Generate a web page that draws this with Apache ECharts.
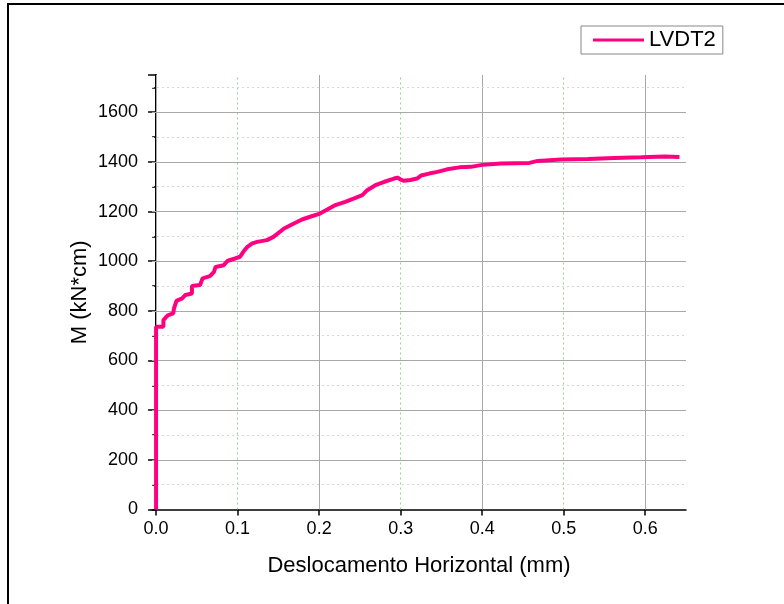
<!DOCTYPE html>
<html>
<head>
<meta charset="utf-8">
<script src="https://cdn.jsdelivr.net/npm/echarts@6/dist/echarts.min.js"></script>
<style>
html,body{margin:0;padding:0;background:#fff}
#chart{width:784px;height:604px}
</style>
</head>
<body>
<div id="chart"></div>
<script>
// displacement (mm) and moment (kN*cm)
var disp = [0, 0, 0.009, 0.009, 0.012, 0.015, 0.021, 0.022, 0.025, 0.032, 0.036, 0.044, 0.044, 0.054, 0.057,
    0.066, 0.071, 0.073, 0.083, 0.088, 0.097, 0.103, 0.107, 0.112, 0.118, 0.124, 0.136, 0.144, 0.157, 0.169,
    0.179, 0.189, 0.201, 0.210, 0.220, 0.232, 0.243, 0.253, 0.259, 0.269, 0.280, 0.292, 0.296, 0.300, 0.304,
    0.312, 0.320, 0.325, 0.335, 0.345, 0.357, 0.372, 0.386, 0.400, 0.423, 0.458, 0.468, 0.497, 0.530, 0.562,
    0.595, 0.624, 0.642];
var moment = [0, 736, 736, 763, 774, 783, 790, 810, 840, 850, 864, 870, 900, 904, 931,
    940, 957, 977, 984, 1002, 1011, 1018, 1038, 1058, 1072, 1078, 1085, 1098, 1132, 1152,
    1168, 1179, 1192, 1208, 1226, 1239, 1253, 1266, 1286, 1306, 1320, 1333, 1337, 1329, 1324,
    1327, 1333, 1345, 1353, 1360, 1370, 1378, 1380, 1388, 1394, 1396, 1404, 1410, 1412, 1416,
    1419, 1422, 1420];

var xTicks = [0, 0.1, 0.2, 0.3, 0.4, 0.5, 0.6];
var xGridSolid = [0, 0.2, 0.4, 0.6];
var xGridDotted = [0.1, 0.3, 0.5];
var yGridSolid = [200, 400, 600, 800, 1000, 1200, 1400, 1600];
var yGridDotted = [100, 300, 500, 700, 900, 1100, 1300, 1500, 1700];

var myChart = echarts.init(document.getElementById('chart'));

var points = disp.map(function (d, i) { return [d, moment[i]]; });

var gridLines = [];
xGridSolid.forEach(function (v) {
    gridLines.push({xAxis: v, lineStyle: {color: '#a8a8a8', width: 1, type: 'solid'}});
});
xGridDotted.forEach(function (v) {
    gridLines.push({xAxis: v, lineStyle: {color: '#8fd48f', width: 1, type: [2, 3]}});
});
yGridSolid.forEach(function (v) {
    gridLines.push({yAxis: v, lineStyle: {color: '#a8a8a8', width: 1, type: 'solid'}});
});
yGridDotted.forEach(function (v) {
    gridLines.push({yAxis: v, lineStyle: {color: '#d6d6d6', width: 1, type: [2, 3]}});
});

var font = '"Liberation Sans", Arial, sans-serif';

var option = {
    animation: false,
    textStyle: {fontFamily: font},
    graphic: [{
        type: 'rect',
        shape: {x: 8, y: 4, width: 900, height: 900},
        style: {fill: 'none', stroke: '#000', lineWidth: 2},
        silent: true
    }],
    legend: {
        left: 581,
        top: 26,
        data: ['LVDT2'],
        icon: 'rect',
        itemWidth: 51,
        itemHeight: 3,
        padding: [3, 7, 3, 12],
        borderColor: '#888',
        borderWidth: 1,
        textStyle: {fontSize: 22, color: '#000', fontFamily: font}
    },
    grid: {left: 152, right: 98, top: 75, bottom: 94.5},
    xAxis: {
        type: 'value',
        min: -0.005,
        max: 0.65,
        name: 'Deslocamento Horizontal (mm)',
        nameLocation: 'middle',
        nameGap: 45,
        nameTextStyle: {fontSize: 22, color: '#000'},
        axisLine: {onZero: false, lineStyle: {color: '#000', width: 1.5}},
        axisTick: {customValues: xTicks, length: 6, lineStyle: {color: '#000', width: 1.5}},
        axisLabel: {customValues: xTicks, fontSize: 18, color: '#000', margin: 11,
            formatter: function (v) { return v.toFixed(1); }},
        splitLine: {show: false}
    },
    yAxis: {
        type: 'value',
        min: 0,
        max: 1750,
        interval: 200,
        name: 'M (kN*cm)',
        nameLocation: 'middle',
        nameGap: 61,
        nameMoveOverlap: false,
        nameTextStyle: {fontSize: 22, color: '#000'},
        axisLine: {show: true, lineStyle: {color: '#000', width: 2}},
        axisTick: {length: 8, lineStyle: {color: '#000', width: 1.5}},
        minorTick: {show: true, splitNumber: 2, length: 4, lineStyle: {color: '#000', width: 1.5}},
        axisLabel: {fontSize: 18, color: '#000', margin: 14, showMaxLabel: false,
            formatter: function (v) { return String(v); }},
        splitLine: {show: false}
    },
    series: [
        {
            name: 'grid',
            type: 'line',
            data: [],
            z: 1,
            silent: true,
            markLine: {
                silent: true,
                symbol: 'none',
                label: {show: false},
                animation: false,
                data: gridLines
            }
        },
        {
            name: 'LVDT2',
            type: 'line',
            data: points,
            z: 5,
            showSymbol: false,
            symbol: 'none',
            color: '#ff0080',
            lineStyle: {color: '#ff0080', width: 4}
        }
    ]
};

myChart.setOption(option);
</script>
</body>
</html>
